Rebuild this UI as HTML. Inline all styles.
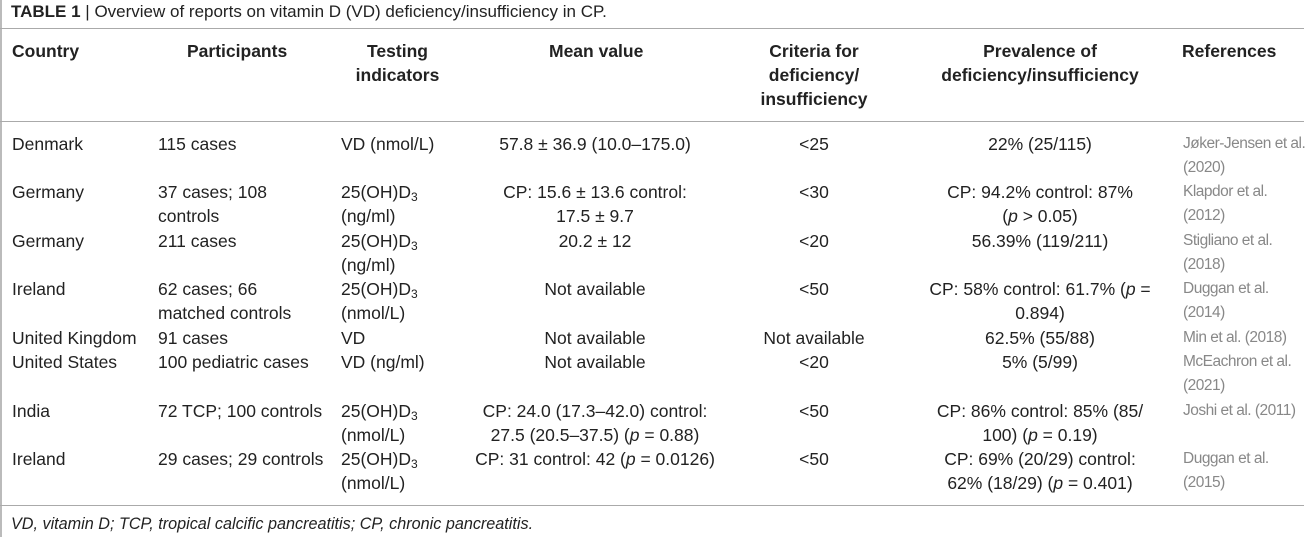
<!DOCTYPE html>
<html><head><meta charset="utf-8"><style>
body{margin:0;width:1310px;height:537px;background:#fff;position:relative;overflow:hidden;font-family:"Liberation Sans",Arial,sans-serif;color:#222;font-size:17.5px}
div{position:absolute;white-space:nowrap;line-height:24px}
.h{font-weight:bold;font-size:17.5px}
.c{text-align:center}
.r{color:#888;font-size:15.5px;letter-spacing:-0.5px}
.ln{height:1px;background:#aaa;left:0;width:1304px}
sub{font-size:12px;vertical-align:-3px;line-height:0}
</style></head><body>
<div style="left:0;top:0;width:2px;height:537px;background:#bbb"></div>
<div style="left:11px;top:0;font-size:17px"><b>TABLE 1</b> | Overview of reports on vitamin D (VD) deficiency/insufficiency in CP.</div>
<div class="ln" style="top:28px"></div>
<div class="h" style="left:12px;top:39px">Country</div>
<div class="h" style="left:187px;top:39px">Participants</div>
<div class="h c" style="left:330px;width:135px;top:39px">Testing<br>indicators</div>
<div class="h" style="left:549px;top:39px">Mean value</div>
<div class="h c" style="left:744px;width:140px;top:39px">Criteria for<br>deficiency/<br>insufficiency</div>
<div class="h c" style="left:920px;width:240px;top:39px">Prevalence of<br>deficiency/insufficiency</div>
<div class="h" style="left:1182px;top:39px">References</div>
<div class="ln" style="top:121px"></div>

<div style="left:12px;top:132px">Denmark</div>
<div style="left:158px;top:132px">115 cases</div>
<div style="left:341px;top:132px">VD (nmol/L)</div>
<div class="c" style="left:445px;width:300px;top:132px">57.8 ± 36.9 (10.0–175.0)</div>
<div class="c" style="left:744px;width:140px;top:132px">&lt;25</div>
<div class="c" style="left:880px;width:320px;top:132px">22% (25/115)</div>
<div class="r" style="left:1183px;top:132px">Jøker-Jensen et al.<br>(2020)</div>

<div style="left:12px;top:180px">Germany</div>
<div style="left:158px;top:180px">37 cases; 108<br>controls</div>
<div style="left:341px;top:180px">25(OH)D<sub>3</sub><br>(ng/ml)</div>
<div class="c" style="left:445px;width:300px;top:180px">CP: 15.6 ± 13.6 control:<br>17.5 ± 9.7</div>
<div class="c" style="left:744px;width:140px;top:180px">&lt;30</div>
<div class="c" style="left:880px;width:320px;top:180px">CP: 94.2% control: 87%<br>(<i>p</i> &gt; 0.05)</div>
<div class="r" style="left:1183px;top:180px">Klapdor et al.<br>(2012)</div>

<div style="left:12px;top:229px">Germany</div>
<div style="left:158px;top:229px">211 cases</div>
<div style="left:341px;top:229px">25(OH)D<sub>3</sub><br>(ng/ml)</div>
<div class="c" style="left:445px;width:300px;top:229px">20.2 ± 12</div>
<div class="c" style="left:744px;width:140px;top:229px">&lt;20</div>
<div class="c" style="left:880px;width:320px;top:229px">56.39% (119/211)</div>
<div class="r" style="left:1183px;top:229px">Stigliano et al.<br>(2018)</div>

<div style="left:12px;top:277px">Ireland</div>
<div style="left:158px;top:277px">62 cases; 66<br>matched controls</div>
<div style="left:341px;top:277px">25(OH)D<sub>3</sub><br>(nmol/L)</div>
<div class="c" style="left:445px;width:300px;top:277px">Not available</div>
<div class="c" style="left:744px;width:140px;top:277px">&lt;50</div>
<div class="c" style="left:880px;width:320px;top:277px">CP: 58% control: 61.7% (<i>p</i> =<br>0.894)</div>
<div class="r" style="left:1183px;top:277px">Duggan et al.<br>(2014)</div>

<div style="left:12px;top:326px">United Kingdom</div>
<div style="left:158px;top:326px">91 cases</div>
<div style="left:341px;top:326px">VD</div>
<div class="c" style="left:445px;width:300px;top:326px">Not available</div>
<div class="c" style="left:744px;width:140px;top:326px">Not available</div>
<div class="c" style="left:880px;width:320px;top:326px">62.5% (55/88)</div>
<div class="r" style="left:1183px;top:326px">Min et al. (2018)</div>

<div style="left:12px;top:350px">United States</div>
<div style="left:158px;top:350px">100 pediatric cases</div>
<div style="left:341px;top:350px">VD (ng/ml)</div>
<div class="c" style="left:445px;width:300px;top:350px">Not available</div>
<div class="c" style="left:744px;width:140px;top:350px">&lt;20</div>
<div class="c" style="left:880px;width:320px;top:350px">5% (5/99)</div>
<div class="r" style="left:1183px;top:350px">McEachron et al.<br>(2021)</div>

<div style="left:12px;top:399px">India</div>
<div style="left:158px;top:399px">72 TCP; 100 controls</div>
<div style="left:341px;top:399px">25(OH)D<sub>3</sub><br>(nmol/L)</div>
<div class="c" style="left:445px;width:300px;top:399px">CP: 24.0 (17.3–42.0) control:<br>27.5 (20.5–37.5) (<i>p</i> = 0.88)</div>
<div class="c" style="left:744px;width:140px;top:399px">&lt;50</div>
<div class="c" style="left:880px;width:320px;top:399px">CP: 86% control: 85% (85/<br>100) (<i>p</i> = 0.19)</div>
<div class="r" style="left:1183px;top:399px">Joshi et al. (2011)</div>

<div style="left:12px;top:447px">Ireland</div>
<div style="left:158px;top:447px">29 cases; 29 controls</div>
<div style="left:341px;top:447px">25(OH)D<sub>3</sub><br>(nmol/L)</div>
<div class="c" style="left:445px;width:300px;top:447px">CP: 31 control: 42 (<i>p</i> = 0.0126)</div>
<div class="c" style="left:744px;width:140px;top:447px">&lt;50</div>
<div class="c" style="left:880px;width:320px;top:447px">CP: 69% (20/29) control:<br>62% (18/29) (<i>p</i> = 0.401)</div>
<div class="r" style="left:1183px;top:447px">Duggan et al.<br>(2015)</div>

<div class="ln" style="top:505px"></div>
<div style="left:11px;top:512px;font-style:italic;font-size:16.2px">VD, vitamin D; TCP, tropical calcific pancreatitis; CP, chronic pancreatitis.</div>
</body></html>
